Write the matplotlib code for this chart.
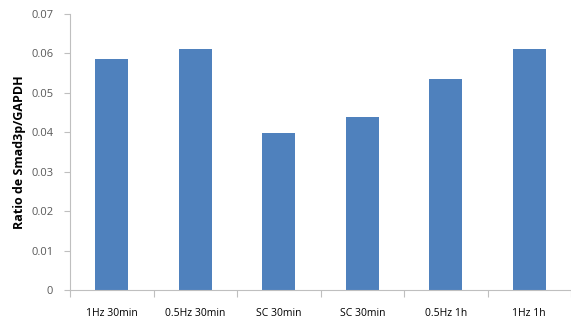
import numpy as np
import matplotlib
matplotlib.use("Agg")
import matplotlib.pyplot as plt

categories = ["1Hz 30min", "0.5Hz 30min", "SC 30min", "SC 30min",
              "0.5Hz 1h", "1Hz 1h"]
values = [0.0585, 0.0610, 0.0399, 0.0440, 0.0535, 0.0610]
yticks = [0, 0.01, 0.02, 0.03, 0.04, 0.05, 0.06, 0.07]
ytick_labels = ["0", "0.01", "0.02", "0.03", "0.04", "0.05", "0.06", "0.07"]

plt.rcParams["font.family"] = ["Open Sans", "DejaVu Sans"]
GRAY = "#BFBFBF"
TXT = "#595959"

fig = plt.figure(figsize=(5.71, 3.2), dpi=100)
ax = fig.add_axes([70 / 571, 30 / 320, 501 / 571, 276 / 320])

x = np.arange(len(categories))
ax.bar(x, values, width=0.4, color="#4F81BD")

ax.set_ylim(0, 0.07)
ax.set_xlim(-0.5, 5.37)
ax.set_yticks(yticks)
ax.set_yticklabels(ytick_labels, fontsize=8, color=TXT)

# category boundaries as major ticks, labels at centers
ax.set_xticks(np.arange(len(categories) + 1) - 0.5)
ax.set_xticklabels([])
ax.set_xticks(x, minor=True)
ax.set_xticklabels(categories, minor=True, fontsize=7.5, color="black")
ax.tick_params(axis="x", which="major", direction="out", length=5,
               color=GRAY, width=0.8)
ax.tick_params(axis="x", which="minor", length=0, pad=13)
ax.tick_params(axis="y", direction="out", length=4, color=GRAY, width=0.8,
               pad=8)

for s in ["top", "right"]:
    ax.spines[s].set_visible(False)
ax.spines["left"].set_color(GRAY)
ax.spines["bottom"].set_color(GRAY)

ax.set_ylabel("Ratio de Smad3p/GAPDH", fontsize=9, fontweight="bold",
              labelpad=4)

plt.savefig("out.png", dpi=100)
plt.close()
